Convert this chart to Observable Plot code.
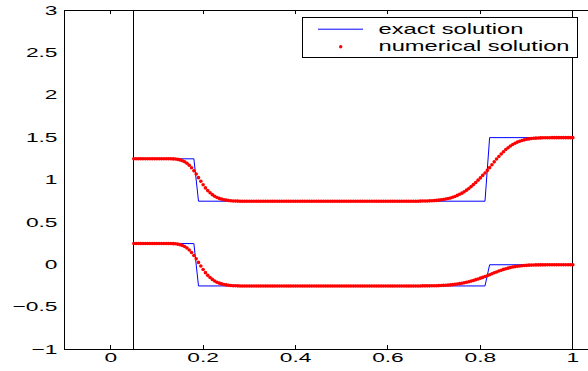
<!DOCTYPE html>
<html><head><meta charset="utf-8">
<script src="https://cdn.jsdelivr.net/npm/d3@7"></script>
<script src="https://cdn.jsdelivr.net/npm/@observablehq/plot@0.6"></script>
<style>html,body{margin:0;padding:0;background:#fff;overflow:hidden;} #chart svg{overflow:hidden;display:block}</style>
</head><body><div id="chart"></div>
<script>
// grid of the numerical solution
const xGrid = [
0.05,0.055,0.06,0.065,0.07,0.075,0.08,0.085,0.09,0.095,
0.1,0.105,0.11,0.115,0.12,0.125,0.13,0.135,0.14,0.145,
0.15,0.155,0.16,0.165,0.17,0.175,0.18,0.185,0.19,0.195,
0.2,0.205,0.21,0.215,0.22,0.225,0.23,0.235,0.24,0.245,
0.25,0.255,0.26,0.265,0.27,0.275,0.28,0.285,0.29,0.295,
0.3,0.305,0.31,0.315,0.32,0.325,0.33,0.335,0.34,0.345,
0.35,0.355,0.36,0.365,0.37,0.375,0.38,0.385,0.39,0.395,
0.4,0.405,0.41,0.415,0.42,0.425,0.43,0.435,0.44,0.445,
0.45,0.455,0.46,0.465,0.47,0.475,0.48,0.485,0.49,0.495,
0.5,0.505,0.51,0.515,0.52,0.525,0.53,0.535,0.54,0.545,
0.55,0.555,0.56,0.565,0.57,0.575,0.58,0.585,0.59,0.595,
0.6,0.605,0.61,0.615,0.62,0.625,0.63,0.635,0.64,0.645,
0.65,0.655,0.66,0.665,0.67,0.675,0.68,0.685,0.69,0.695,
0.7,0.705,0.71,0.715,0.72,0.725,0.73,0.735,0.74,0.745,
0.75,0.755,0.76,0.765,0.77,0.775,0.78,0.785,0.79,0.795,
0.8,0.805,0.81,0.815,0.82,0.825,0.83,0.835,0.84,0.845,
0.85,0.855,0.86,0.865,0.87,0.875,0.88,0.885,0.89,0.895,
0.9,0.905,0.91,0.915,0.92,0.925,0.93,0.935,0.94,0.945,
0.95,0.955,0.96,0.965,0.97,0.975,0.98,0.985,0.99,0.995,
1];
const numUpper = [
1.25,1.25,1.25,1.25,1.25,1.25,1.25,1.25,1.25,1.25,
1.25,1.25,1.25,1.25,1.25,1.25,1.25,1.249,1.247,1.243,
1.237,1.228,1.215,1.197,1.174,1.145,1.110,1.070,1.028,0.985,
0.944,0.907,0.875,0.849,0.827,0.809,0.794,0.783,0.774,0.767,
0.762,0.758,0.755,0.753,0.752,0.751,0.75,0.75,0.75,0.75,
0.75,0.75,0.75,0.75,0.75,0.75,0.75,0.75,0.75,0.75,
0.75,0.75,0.75,0.75,0.75,0.75,0.75,0.75,0.75,0.75,
0.75,0.75,0.75,0.75,0.75,0.75,0.75,0.75,0.75,0.75,
0.75,0.75,0.75,0.75,0.75,0.75,0.75,0.75,0.75,0.75,
0.75,0.75,0.75,0.75,0.75,0.75,0.75,0.75,0.75,0.75,
0.75,0.75,0.75,0.75,0.75,0.75,0.75,0.75,0.75,0.75,
0.75,0.75,0.75,0.75,0.75,0.75,0.75,0.75,0.75,0.75,
0.75,0.75,0.75,0.75,0.751,0.752,0.752,0.753,0.754,0.755,
0.757,0.759,0.762,0.766,0.770,0.775,0.781,0.788,0.796,0.806,
0.818,0.831,0.845,0.862,0.880,0.900,0.922,0.946,0.971,0.998,
1.025,1.054,1.083,1.113,1.146,1.180,1.214,1.247,1.278,1.307,
1.334,1.359,1.381,1.401,1.418,1.433,1.447,1.457,1.466,1.474,
1.480,1.485,1.489,1.492,1.494,1.496,1.497,1.498,1.498,1.499,
1.499,1.5,1.5,1.5,1.5,1.5,1.5,1.5,1.5,1.5,
1.5];
const numLower = [
0.25,0.25,0.25,0.25,0.25,0.25,0.25,0.25,0.25,0.25,
0.25,0.25,0.25,0.25,0.25,0.25,0.25,0.249,0.247,0.243,
0.237,0.228,0.215,0.197,0.174,0.145,0.110,0.070,0.028,-0.015,
-0.056,-0.093,-0.125,-0.151,-0.173,-0.191,-0.206,-0.217,-0.226,-0.233,
-0.238,-0.242,-0.245,-0.247,-0.248,-0.249,-0.25,-0.25,-0.25,-0.25,
-0.25,-0.25,-0.25,-0.25,-0.25,-0.25,-0.25,-0.25,-0.25,-0.25,
-0.25,-0.25,-0.25,-0.25,-0.25,-0.25,-0.25,-0.25,-0.25,-0.25,
-0.25,-0.25,-0.25,-0.25,-0.25,-0.25,-0.25,-0.25,-0.25,-0.25,
-0.25,-0.25,-0.25,-0.25,-0.25,-0.25,-0.25,-0.25,-0.25,-0.25,
-0.25,-0.25,-0.25,-0.25,-0.25,-0.25,-0.25,-0.25,-0.25,-0.25,
-0.25,-0.25,-0.25,-0.25,-0.25,-0.25,-0.25,-0.25,-0.25,-0.25,
-0.25,-0.25,-0.25,-0.25,-0.25,-0.25,-0.25,-0.25,-0.25,-0.25,
-0.25,-0.25,-0.25,-0.25,-0.25,-0.249,-0.249,-0.249,-0.249,-0.248,
-0.248,-0.247,-0.246,-0.245,-0.243,-0.242,-0.240,-0.237,-0.235,-0.231,
-0.227,-0.223,-0.218,-0.213,-0.207,-0.200,-0.193,-0.185,-0.176,-0.168,
-0.158,-0.149,-0.139,-0.129,-0.118,-0.107,-0.095,-0.085,-0.074,-0.065,
-0.055,-0.047,-0.040,-0.033,-0.027,-0.022,-0.018,-0.014,-0.011,-0.009,
-0.007,-0.005,-0.004,-0.003,-0.002,-0.002,-0.001,-0.001,-0.001,0,
0,0,0,0,0,0,0,0,0,0,
0];
const exactX = [0.05,0.18,0.19,0.81,0.82,1];
const exactUpper = [1.25,1.25,0.75,0.75,1.5,1.5];
const exactLower = [0.25,0.25,-0.25,-0.25,0,0];
const boundaries = [0.05, 1];
const xTicks = [0,0.2,0.4,0.6,0.8,1];
const xTickLabels = ["0","0.2","0.4","0.6","0.8","1"];
const yTicks = [-1,-0.5,0,0.5,1,1.5,2,2.5,3];
const yTickLabels = ["\u22121","\u22120.5","0","0.5","1","1.5","2","2.5","3"];
const legendLabels = ["exact solution","numerical solution"];

const exact = exactX.flatMap((x,i)=>[{x,y:exactUpper[i],s:"upper"},{x,y:exactLower[i],s:"lower"}]);
const numerical = xGrid.flatMap((x,i)=>[{x,y:numUpper[i]},{x,y:numLower[i]}]);

const W=588,H=371,mL=64,mR=-30.5,mT=10,mB=22;
const plotH=H-mT-mB;
const tick=4;
const font="'Liberation Sans', Arial, Helvetica, sans-serif";

const chart = Plot.plot({
  width:W, height:H, marginLeft:mL, marginRight:mR, marginTop:mT, marginBottom:mB,
  x:{domain:[-0.1,1.1], axis:null},
  y:{domain:[-1,3], axis:null},
  style:{fontFamily:font, background:"#fff", color:"#000"},
  marks:[
    Plot.tickX(xTicks,{x:d=>d, insetTop:plotH-tick, stroke:"#000", shapeRendering:"crispEdges"}),
    Plot.tickX(xTicks,{x:d=>d, insetBottom:plotH-tick, stroke:"#000", shapeRendering:"crispEdges"}),
    Plot.ruleX(boundaries,{x:d=>d, stroke:"#000", shapeRendering:"crispEdges"}),
    Plot.line(exact,{x:"x", y:"y", z:"s", stroke:"#0000ff", strokeWidth:1}),
    Plot.dot(numerical,{x:"x", y:"y", r:1.8, fill:"#ff0000"}),
    Plot.frame({stroke:"#000", shapeRendering:"crispEdges"}),
    Plot.text(xTicks,{x:d=>d, text:(d,i)=>xTickLabels[i], frameAnchor:"bottom", dy:12.5, fontSize:13, fill:"#000"}),
    Plot.text(yTicks,{y:d=>d, text:(d,i)=>yTickLabels[i], frameAnchor:"left", dx:-7, textAnchor:"end", fontSize:13, fill:"#000"})
  ]
});
document.getElementById("chart").append(chart);

function stretch(nodes,f){
  nodes.each(function(){
    const w=this.getComputedTextLength();
    this.setAttribute("textLength",w*f);
    this.setAttribute("lengthAdjust","spacingAndGlyphs");
  });
}
const svg=d3.select(chart);
stretch(svg.selectAll("text"),1.75);

const g=svg.append("g").attr("font-family",font).attr("font-size",15).attr("text-anchor","start");
g.append("rect").attr("x",302.5).attr("y",17.5).attr("width",275).attr("height",40).attr("fill","#fff").attr("stroke","#000").attr("shape-rendering","crispEdges");
g.append("line").attr("x1",318).attr("x2",363).attr("y1",29.2).attr("y2",29.2).attr("stroke","#0000ff").attr("stroke-width",1);
g.append("circle").attr("cx",340.7).attr("cy",46.7).attr("r",1.7).attr("fill","#ff0000");
g.append("text").attr("x",378.5).attr("y",33.5).attr("fill","#000").text(legendLabels[0]);
g.append("text").attr("x",378.5).attr("y",50.5).attr("fill","#000").text(legendLabels[1]);
stretch(g.selectAll("text"),1.58);
</script></body></html>
